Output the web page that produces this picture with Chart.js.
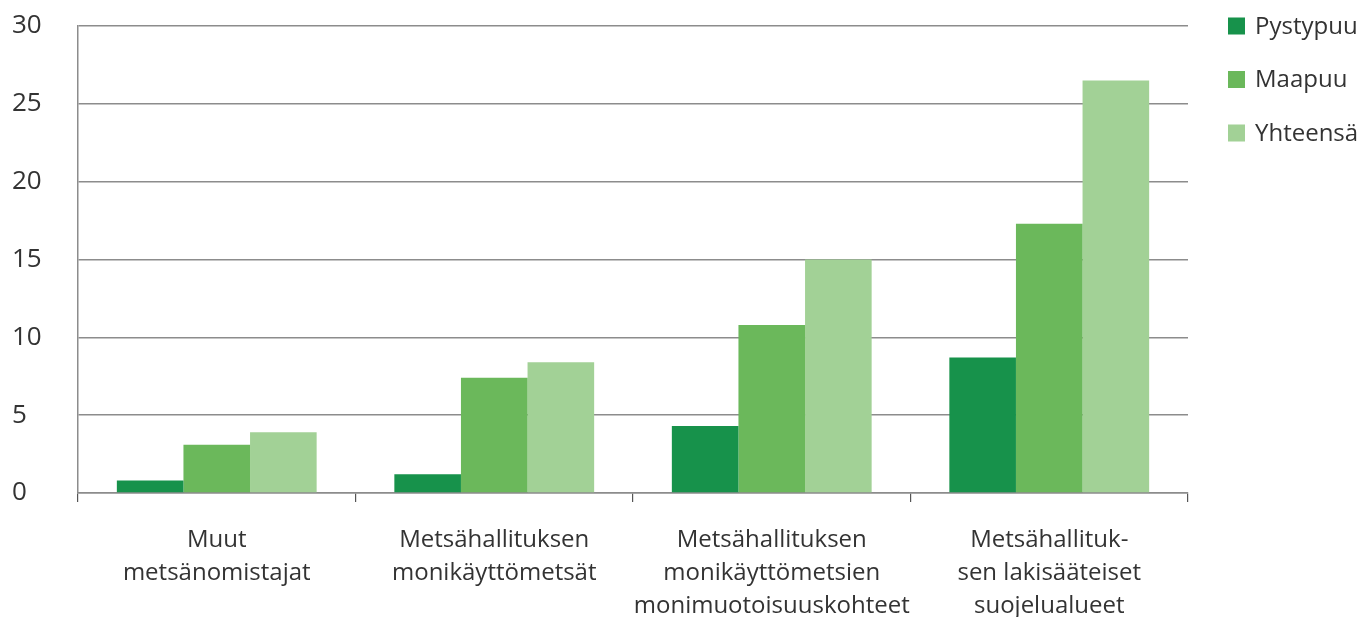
<!DOCTYPE html>
<html>
<head>
<meta charset="utf-8">
<script src="https://cdn.jsdelivr.net/npm/chart.js@4/dist/chart.umd.min.js"></script>
<style>
  html, body { margin: 0; padding: 0; background: #fff; }
  #wrap { width: 1362px; height: 617px; position: relative; }
</style>
</head>
<body>
<div id="wrap"><canvas id="c" width="1362" height="617"></canvas></div>
<script>
const categories = [
  ["Muut", "metsänomistajat"],
  ["Metsähallituksen", "monikäyttömetsät"],
  ["Metsähallituksen", "monikäyttömetsien", "monimuotoisuuskohteet"],
  ["Metsähallituk-", "sen lakisääteiset", "suojelualueet"]
];
const seriesNames = ["Pystypuu", "Maapuu", "Yhteensä"];
const pystypuu = [0.8, 1.2, 4.3, 8.7];
const maapuu = [3.1, 7.4, 10.8, 17.3];
const yhteensa = [3.9, 8.4, 15.0, 26.5];
const yTicks = [0, 5, 10, 15, 20, 25, 30];

const colors = ["#17924b", "#6bb85b", "#a2d196"];
const FONT = "'Open Sans', sans-serif";
const TEXT = "#333333";

const legendPlugin = {
  id: 'sideLegend',
  afterDraw(chart) {
    const ctx = chart.ctx;
    const a = chart.chartArea;
    const x0 = a.right + 40;
    const gaps = 53.5;
    ctx.save();
    ctx.font = "24px " + FONT;
    ctx.textBaseline = 'middle';
    ctx.textAlign = 'left';
    chart.data.datasets.forEach((ds, i) => {
      const cy = a.top + i * gaps;
      ctx.fillStyle = ds.backgroundColor;
      ctx.fillRect(x0, cy - 8.5, 17, 17);
      ctx.fillStyle = TEXT;
      ctx.fillText(ds.label, x0 + 27, cy + 1);
    });
    ctx.restore();
  }
};

new Chart(document.getElementById('c'), {
  type: 'bar',
  data: {
    labels: categories,
    datasets: [
      { label: seriesNames[0], data: pystypuu, backgroundColor: colors[0] },
      { label: seriesNames[1], data: maapuu, backgroundColor: colors[1] },
      { label: seriesNames[2], data: yhteensa, backgroundColor: colors[2] }
    ]
  },
  options: {
    responsive: false,
    animation: false,
    devicePixelRatio: 1,
    layout: { padding: { left: 12, right: 174, top: 26, bottom: 0 } },
    datasets: { bar: { barPercentage: 1.0, categoryPercentage: 0.72 } },
    plugins: { legend: { display: false }, tooltip: { enabled: false } },
    scales: {
      x: {
        offset: true,
        grid: { display: true, drawOnChartArea: false, drawTicks: true, tickLength: 9, color: '#555555', lineWidth: 1.2, offset: true },
        border: { display: true, color: '#8c8c8c', width: 1.5 },
        ticks: { color: TEXT, font: { family: FONT, size: 24, lineHeight: 1.375 }, padding: 22, maxRotation: 0, autoSkip: false },
        afterFit(s) { s.height = 124; }
      },
      y: {
        min: 0, max: 30,
        afterBuildTicks(s) { s.ticks = yTicks.map(v => ({ value: v })); },
        grid: { color: '#8c8c8c', lineWidth: 1.5, drawTicks: false },
        border: { display: true, color: '#8c8c8c', width: 1.5 },
        ticks: { color: TEXT, font: { family: FONT, size: 26 }, crossAlign: 'far', padding: 8 },
        afterFit(s) { s.width = 66; }
      }
    }
  },
  plugins: [legendPlugin]
});
</script>
</body>
</html>
